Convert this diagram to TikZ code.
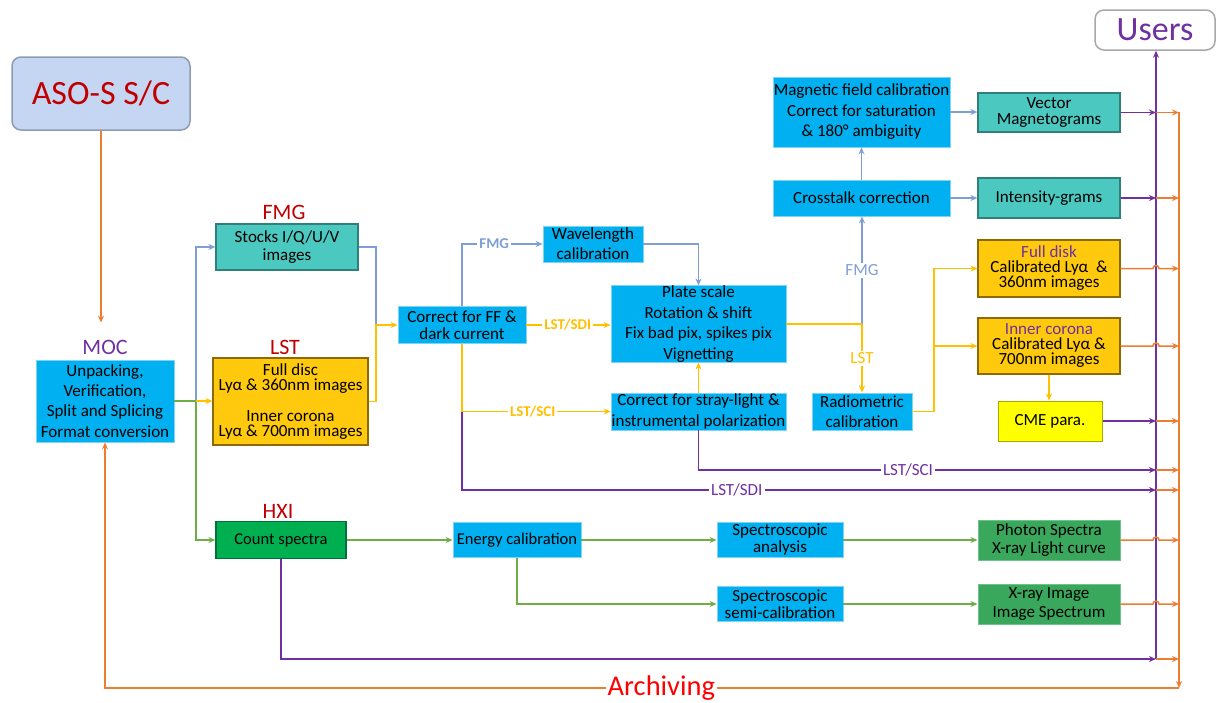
\documentclass[tikz,border=0pt]{standalone}
\usepackage{fontspec}
\setmainfont{Carlito}
\usepackage{tikz}
\usetikzlibrary{arrows.meta}
\definecolor{skyb}{HTML}{00B0F0}
\definecolor{skyl}{HTML}{7FD3F5}
\definecolor{tealf}{HTML}{4BC9C1}
\definecolor{teald}{HTML}{2F7F7A}
\definecolor{goldf}{HTML}{FFC90E}
\definecolor{goldd}{HTML}{8C6A00}
\definecolor{grnf}{HTML}{00B050}
\definecolor{grnd}{HTML}{00703C}
\definecolor{phf}{HTML}{3AA85C}
\definecolor{phd}{HTML}{6CC48A}
\definecolor{cmef}{HTML}{FFFF00}
\definecolor{cmed}{HTML}{A8A800}
\definecolor{scf}{HTML}{C5D6F2}
\definecolor{scd}{HTML}{8E9BB3}
\definecolor{usd}{HTML}{A8A8A8}
\definecolor{redt}{HTML}{C00000}
\definecolor{redl}{HTML}{FF0000}
\definecolor{purp}{HTML}{7030A0}
\definecolor{orn}{HTML}{ED7D31}
\definecolor{bgl}{HTML}{7F9FD4}
\definecolor{ylw}{HTML}{FFC000}
\definecolor{grl}{HTML}{70AD47}

\begin{document}
\begin{tikzpicture}[x=1pt,y=-1pt,>={Stealth[length=7pt,width=6pt]}]
    \tikzstyle{every node}=[font=\fontsize{17}{20}\selectfont,align=center,inner sep=0pt]
    \tikzstyle{bb} = [draw=skyl,fill=skyb,line width=.8pt]
    \tikzstyle{tb} = [draw=teald,fill=tealf,line width=1.2pt]
    \tikzstyle{gb} = [draw=goldd,fill=goldf,line width=1.2pt]
    \tikzstyle{hb} = [draw=grnd,fill=grnf,line width=1.2pt]
    \tikzstyle{pb} = [draw=phd,fill=phf,line width=1pt]
    \tikzstyle{ttl} = [font=\fontsize{22}{25}\selectfont,text=redt]
    \tikzstyle{tag} = [fill=white,inner sep=2pt,font=\fontsize{17}{19}\selectfont]
    \tikzstyle{btag} = [tag,font=\fontsize{15}{17}\selectfont\bfseries]
    \tikzstyle{ol} = [draw=orn,line width=1.5pt]
    \tikzstyle{pl} = [draw=purp,line width=1.5pt]
    \tikzstyle{bl} = [draw=bgl,line width=1.5pt]
    \tikzstyle{yl} = [draw=ylw,line width=1.5pt]
    \tikzstyle{gl} = [draw=grl,line width=1.5pt]
    \useasboundingbox (0,0) rectangle (1216,702);

    % sources and sinks
    \node [draw=scd,fill=scf,rounded corners=9pt,line width=1.5pt,minimum width=178pt,minimum height=73pt,
           font=\fontsize{34}{37}\selectfont,text=redt] (sc) at (101,93.5) {ASO-S S/C};
    \node [draw=usd,fill=white,rounded corners=9pt,line width=1.5pt,minimum width=120pt,minimum height=40pt,
           font=\fontsize{34}{36}\selectfont,text=purp] (users) at (1155,30) {Users};

    % MOC and the three instruments
    \node [ttl,text=purp] (mocl) at (105,347) {MOC};
    \node [bb,minimum width=138pt,minimum height=82pt,font=\fontsize{17}{20.3}\selectfont] (moc) at (105,401)
          {Unpacking,\\Verification,\\Split and Splicing\\Format conversion};
    \node [ttl] (fmgl) at (284,212) {FMG};
    \node [tb,minimum width=142pt,minimum height=46pt,font=\fontsize{17}{18}\selectfont] (fmg) at (287,247)
          {Stocks I/Q/U/V\\images};
    \node [ttl] (lstl) at (285,347) {LST};
    \node [gb,minimum width=155pt,minimum height=87pt,font=\fontsize{17}{15}\selectfont] (lst) at (290.5,401.5)
          {Full disc\\Lyα \& 360nm images\\[16pt]Inner corona\\Lyα \& 700nm images};
    \node [ttl] (hxil) at (278,511) {HXI};
    \node [hb,minimum width=130pt,minimum height=37pt,font=\fontsize{16.5}{18}\selectfont] (hxi) at (281,540)
          {Count spectra};

    % FMG / LST pipeline
    \node [bb,minimum width=128pt,minimum height=37pt,font=\fontsize{17}{17}\selectfont] (ff) at (462,325)
          {Correct for FF \&\\dark current};
    \node [bb,minimum width=100pt,minimum height=36pt,font=\fontsize{17}{20}\selectfont] (wl) at (593,244)
          {Wavelength\\calibration};
    \node [bb,minimum width=175pt,minimum height=76pt,font=\fontsize{17}{20.5}\selectfont] (ps) at (698.5,324)
          {Plate scale\\Rotation \& shift\\Fix bad pix, spikes pix\\Vignetting};
    \node [bb,minimum width=175pt,minimum height=37pt,font=\fontsize{17}{20.5}\selectfont] (sl) at (698.5,411.5)
          {Correct for stray-light \&\\instrumental polarization};
    \node [bb,minimum width=100pt,minimum height=37pt,font=\fontsize{17}{20}\selectfont] (rad) at (862,411.5)
          {Radiometric\\calibration};
    \node [bb,minimum width=177pt,minimum height=36pt] (ct) at (861.5,198) {Crosstalk correction};
    \node [bb,minimum width=177pt,minimum height=70pt,font=\fontsize{17}{20.5}\selectfont] (mf) at (861.5,112)
          {Magnetic field calibration\\Correct for saturation\\\& 180° ambiguity};

    % products
    \node [tb,minimum width=142pt,minimum height=39pt,font=\fontsize{17}{16}\selectfont] (vm) at (1049,112.5)
          {Vector\\Magnetograms};
    \node [tb,minimum width=142pt,minimum height=40pt] (ig) at (1049,198) {Intensity-grams};
    \node [gb,minimum width=142pt,minimum height=57pt,font=\fontsize{17}{15}\selectfont] (fd) at (1049,268.5)
          {\textcolor{purp}{Full disk}\\Calibrated Lyα~ \&\\360nm images};
    \node [gb,minimum width=142pt,minimum height=56pt,font=\fontsize{17}{15}\selectfont] (ic) at (1049,346)
          {\textcolor{purp}{Inner corona}\\Calibrated Lyα \&\\700nm images};
    \node [draw=cmed,fill=cmef,line width=1pt,minimum width=104pt,minimum height=40pt] (cme) at (1050,421)
          {CME para.};

    % HXI pipeline
    \node [bb,minimum width=128pt,minimum height=35pt,font=\fontsize{16.5}{17}\selectfont] (ec) at (517,540)
          {Energy calibration};
    \node [bb,minimum width=126pt,minimum height=35pt,font=\fontsize{17}{17}\selectfont] (sa) at (780,540)
          {Spectroscopic\\analysis};
    \node [bb,minimum width=126pt,minimum height=35pt,font=\fontsize{17}{17}\selectfont] (ss) at (780,604)
          {Spectroscopic\\semi-calibration};
    \node [pb,minimum width=142pt,minimum height=40pt,font=\fontsize{17}{18}\selectfont] (ph) at (1049,540)
          {Photon Spectra\\X-ray Light curve};
    \node [pb,minimum width=142pt,minimum height=40pt,font=\fontsize{17}{18.5}\selectfont] (xi) at (1049,604)
          {X-ray Image\\Image Spectrum};

    % junctions
    \coordinate (split) at (196,401);
    \coordinate (merge) at (376,325);
    \coordinate (fork) at (862,324);
    \coordinate (ybr) at (934,346);
    \coordinate (pbar) at (1156,0);
    \coordinate (hopl) at (1153,0);
    \coordinate (obar) at (1179,0);
    \coordinate (sci) at (1156,470);
    \coordinate (sdi) at (1156,490);
    \coordinate (pbot) at (1156,659);
    \coordinate (otop) at (1179,112);
    \coordinate (obot) at (1179,688);

    % down-link and archive
    \draw [ol,->,shorten >=17pt] (sc.south) -- (sc.south |- mocl.north);
    \draw [ol,->] (otop) -- (obot);
    \draw [ol,->] (obot) -- node [tag,pos=.482,font=\fontsize{28.5}{31}\selectfont,text=redl] {Archiving}
          (moc.south |- obot) -- (moc.south);

    % purple: to users
    \draw [pl,->] (ff.south) |- node [tag,pos=.698,text=purp] {LST/SDI} (sdi);
    \draw [pl,->] (sl.south) |- node [tag,pos=.729,text=purp] {LST/SCI} (sci);
    \draw [pl,->] (hxi.south) |- (pbot);
    \draw [pl,->] (vm.east) -- (vm.east -| pbar);
    \draw [pl,->] (ig.east) -- (ig.east -| pbar);
    \draw [pl,->] (cme.east) -- (cme.east -| pbar);
    \draw [pl,->] (pbot) -- (pbot |- users.south);

    % orange: to archive
    \draw [ol,->] (vm.east -| pbar) -- (vm.east -| obar);
    \draw [ol,->] (ig.east -| pbar) -- (ig.east -| obar);
    \draw [ol,->] (cme.east -| pbar) -- (cme.east -| obar);
    \draw [ol,->] (sci) -- (sci -| obar);
    \draw [ol,->] (sdi) -- (sdi -| obar);
    \draw [ol,->] (pbot) -- (pbot -| obar);
    \draw [ol,->] (fd.east) -- (fd.east -| hopl) arc [start angle=180,end angle=0,radius=3pt] -- (fd.east -| obar);
    \draw [ol,->] (ic.east) -- (ic.east -| hopl) arc [start angle=180,end angle=0,radius=3pt] -- (ic.east -| obar);
    \draw [ol,->] (ph.east) -- (ph.east -| hopl) arc [start angle=180,end angle=0,radius=3pt] -- (ph.east -| obar);
    \draw [ol,->] (xi.east) -- (xi.east -| hopl) arc [start angle=180,end angle=0,radius=3pt] -- (xi.east -| obar);

    % green: MOC and HXI
    \draw [gl] (moc.east) -- (split);
    \draw [gl,->] (split) |- (hxi.west);
    \draw [gl,->] (hxi.east) -- (hxi.east -| ec.west);
    \draw [gl,->] (ec.east) -- (ec.east -| sa.west);
    \draw [gl,->] (ec.south) |- (ss.west);
    \draw [gl,->] (sa.east) -- (sa.east -| ph.west);
    \draw [gl,->] (ss.east) -- (ss.east -| xi.west);

    % blue: FMG
    \draw [bl,->] (split) |- (fmg.west);
    \draw [bl] (fmg.east) -| (merge);
    \draw [bl,->] (ff.north) |- node [btag,pos=.70,text=bgl] {FMG} (wl.west);
    \draw [bl,->] (wl.east) -| (ps.north);
    \draw [bl,->] (fork) -- node [tag,text=bgl] {FMG} (fork |- ct.south);
    \draw [bl,->] (ct.north) -- (ct.north |- mf.south);
    \draw [bl,->] (mf.east) -- (mf.east -| vm.west);
    \draw [bl,->] (ct.east) -- (ct.east -| ig.west);

    % yellow: LST
    \draw [yl,->] (split) -- (split -| lst.west);
    \draw [yl,->] (lst.east) -| (merge) -- (merge -| ff.west);
    \draw [yl,->] (ff.east) -- node [btag,pos=.49,text=ylw] {LST/SDI} (ff.east -| ps.west);
    \draw [yl,->] (ff.south) |- node [btag,pos=.738,text=ylw] {LST/SCI} (sl.west);
    \draw [yl,->] (sl.north) -- (sl.north |- ps.south);
    \draw [yl] (ps.east) -- (fork);
    \draw [yl,->] (fork) -- node [tag,text=ylw] {LST} (fork |- rad.north);
    \draw [yl,->] (rad.east) -| (ybr) |- (fd.west);
    \draw [yl,->] (ybr) -- (ic.west);
    \draw [yl,->] (ic.south) -- (ic.south |- cme.north);
\end{tikzpicture}
\end{document}
